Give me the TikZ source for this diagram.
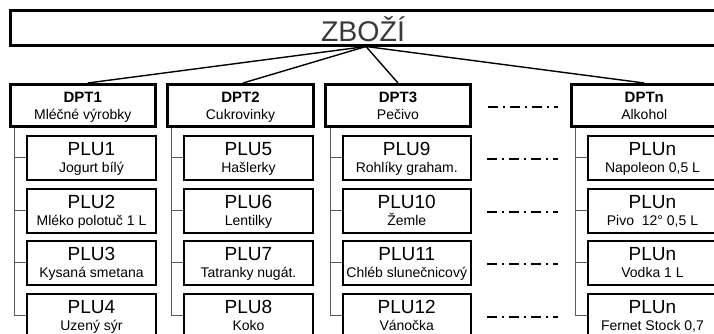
\documentclass[tikz,border=0pt]{standalone}
\usepackage{fontspec}
\setmainfont{Liberation Sans}
\usetikzlibrary{calc}
\tikzset{
  titlebox/.style={draw=black, line width=3pt, rectangle, minimum width=706pt, minimum height=35pt, inner sep=0pt},
  titletext/.style={text=black!78, font=\fontsize{28.5}{30}\selectfont, inner sep=0pt, anchor=base},
  dptbox/.style={draw=black, line width=3pt, rectangle, minimum width=145.5pt, minimum height=42pt, inner sep=0pt},
  dpttitle/.style={font=\bfseries\fontsize{15}{17}\selectfont, inner sep=0pt, anchor=base},
  subtext/.style={font=\fontsize{14}{16}\selectfont, inner sep=0pt, anchor=base},
  plubox/.style={draw=black, line width=2pt, rectangle, minimum height=43.5pt, inner sep=0pt},
  plutitle/.style={font=\fontsize{19}{21}\selectfont, inner sep=0pt, anchor=base},
  conn/.style={draw=black, line width=1.4pt},
  tree/.style={draw=black!65, line width=0.9pt},
  dashdot/.style={draw=black, line width=1.6pt, dash pattern=on 10pt off 5pt on 2pt off 5pt},
}
\newcommand\mkdpt[4]{%
  \node[dptbox] (#1) at (#2,105.5) {};
  \node[dpttitle] (#1t) at (#2,102.3) {#3};
  \node[subtext] (#1s) at (#2,119) {#4};
}
\newcommand\mkplu[6]{%
  \node[plubox, minimum width=#3pt] (#1) at ({#2},{#4+21.75}) {};
  \node[plutitle] (#1t) at ({#2},{#4+19}) {#5};
  \node[subtext] (#1s) at ({#2},{#4+36.2}) {#6};
}
\begin{document}
\begin{tikzpicture}[x=1pt,y=-1pt]
\useasboundingbox (0,0) rectangle (714,334);
\clip (0,0) rectangle (714,334);
% title
\node[titlebox] (title) at (363,28) {};
\node[titletext] (titlet) at (363,42) {ZBOŽÍ};
% departments
\mkdpt{dpt1}{82.75}{DPT1}{Mléčné výrobky}
\mkdpt{dpt2}{240.5}{DPT2}{Cukrovinky}
\mkdpt{dpt3}{398}{DPT3}{Pečivo}
\mkdpt{dptn}{644.25}{DPTn}{Alkohol}
% hub connectors
\coordinate (hub) at (366,46.5);
\draw[conn] (hub) -- ($(dpt1.north)+(5,0)$);
\draw[conn] (hub) -- ($(dpt2.north)+(2.5,0)$);
\draw[conn] (hub) -- (dpt3.north);
\draw[conn] (hub) -- (dptn.north);
% PLU column 1
\mkplu{p1}{91.5}{129}{136}{PLU1}{Jogurt bílý}
\mkplu{p2}{91.5}{129}{189}{PLU2}{Mléko polotuč 1 L}
\mkplu{p3}{91.5}{129}{241}{PLU3}{Kysaná smetana}
\mkplu{p4}{91.5}{129}{294}{PLU4}{Uzený sýr}
% column 2
\mkplu{p5}{248.5}{129}{136}{PLU5}{Hašlerky}
\mkplu{p6}{248.5}{129}{189}{PLU6}{Lentilky}
\mkplu{p7}{248.5}{129}{241}{PLU7}{Tatranky nugát.}
\mkplu{p8}{248.5}{129}{294}{PLU8}{Koko}
% column 3
\mkplu{p9}{406.75}{127.5}{136}{PLU9}{Rohlíky graham.}
\mkplu{p10}{406.75}{127.5}{189}{PLU10}{Žemle}
\mkplu{p11}{406.75}{127.5}{241}{PLU11}{Chléb slunečnicový}
\mkplu{p12}{406.75}{127.5}{294}{PLU12}{Vánočka}
% column n
\mkplu{pn1}{652.5}{129}{136}{PLUn}{Napoleon 0,5 L}
\mkplu{pn2}{652.5}{129}{189}{PLUn}{Pivo\ \ 12° 0,5 L}
\mkplu{pn3}{652.5}{129}{241}{PLUn}{Vodka 1 L}
\mkplu{pn4}{652.5}{129}{294}{PLUn}{Fernet Stock 0,7}
% tree lines
\coordinate (c1) at (14,0);
\coordinate (c2) at (171.7,0);
\coordinate (c3) at (330,0);
\coordinate (cn) at (575.5,0);
\draw[tree] (dpt1.south -| c1) |- (p4.west);
\foreach \p in {p1,p2,p3} \draw[tree] (\p.west -| c1) -- (\p.west);
\draw[tree] (dpt2.south -| c2) |- (p8.west);
\foreach \p in {p5,p6,p7} \draw[tree] (\p.west -| c2) -- (\p.west);
\draw[tree] (dpt3.south -| c3) |- (p12.west);
\foreach \p in {p9,p10,p11} \draw[tree] (\p.west -| c3) -- (\p.west);
\draw[tree] (dptn.south -| cn) |- (pn4.west);
\foreach \p in {pn1,pn2,pn3} \draw[tree] (\p.west -| cn) -- (\p.west);
% dash-dot continuation lines
\draw[dashdot] ($(dpt3.east)+(16,1.5)$) -- ($(dptn.west)+(-12,1.5)$);
\draw[dashdot] ($(p9.east)+(15.5,1.5)$) -- ($(pn1.west)+(-29,1.5)$);
\draw[dashdot] ($(p10.east)+(15.5,1.5)$) -- ($(pn2.west)+(-29,1.5)$);
\draw[dashdot] ($(p11.east)+(15.5,1.5)$) -- ($(pn3.west)+(-29,1.5)$);
\draw[dashdot] ($(p12.east)+(15.5,1.5)$) -- ($(pn4.west)+(-29,1.5)$);
\end{tikzpicture}
\end{document}
